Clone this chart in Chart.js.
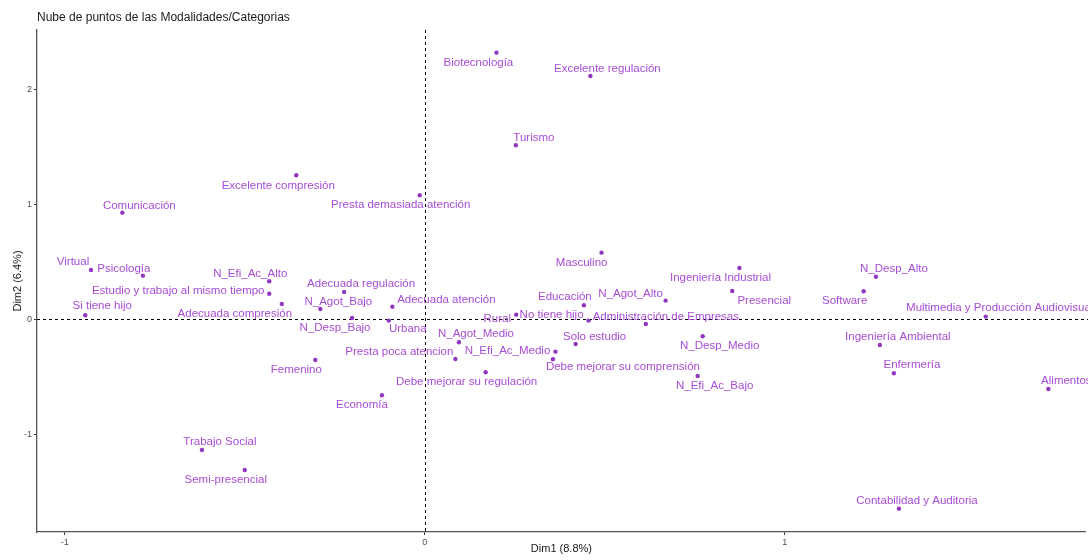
<!DOCTYPE html>
<html>
<head>
<meta charset="utf-8">
<script src="https://cdn.jsdelivr.net/npm/chart.js@4/dist/chart.umd.min.js"></script>
<style>
  html, body { margin: 0; padding: 0; background: #ffffff; }
  #wrap { width: 1088px; height: 560px; position: relative; }
</style>
</head>
<body>
<div id="wrap"><canvas id="c"></canvas></div>
<script>
// ---- Data ----
const categories = [
  "Biotecnología", "Excelente regulación", "Turismo", "Presta demasiada atención",
  "Excelente compresión", "Comunicación", "Virtual", "Psicología", "N_Efi_Ac_Alto",
  "Estudio y trabajo al mismo tiempo", "Si tiene hijo", "Adecuada compresión",
  "Adecuada regulación", "N_Agot_Bajo", "Adecuada atención", "N_Desp_Bajo", "Urbana",
  "Femenino", "Economía", "Presta poca atencion", "N_Agot_Medio", "N_Efi_Ac_Medio",
  "Debe mejorar su comprensión", "Debe mejorar su regulación", "Rural", "No tiene hijo",
  "Administración de Empresas", "Educación", "N_Agot_Alto", "Masculino", "Solo estudio",
  "N_Desp_Medio", "N_Efi_Ac_Bajo", "Ingeniería Industrial", "Presencial", "Software",
  "N_Desp_Alto", "Multimedia y Producción Audiovisual", "Ingeniería Ambiental",
  "Enfermería", "Alimentos", "Contabilidad y Auditoria", "Trabajo Social", "Semi-presencial"
];
const dim1 = [
  0.199, 0.460, 0.253, -0.014,
  -0.357, -0.840, -0.927, -0.783, -0.432,
  -0.432, -0.943, -0.397,
  -0.224, -0.290, -0.090, -0.202, -0.100,
  -0.304, -0.119, 0.085, 0.095, 0.363,
  0.356, 0.169, 0.254, 0.455,
  0.614, 0.442, 0.669, 0.491, 0.419,
  0.772, 0.758, 0.874, 0.854, 1.219,
  1.253, 1.558, 1.264,
  1.303, 1.732, 1.317, -0.619, -0.500
];
const dim2 = [
  2.320, 2.117, 1.515, 1.080,
  1.254, 0.929, 0.430, 0.381, 0.332,
  0.224, 0.037, 0.135,
  0.239, 0.091, 0.111, 0.013, -0.010,
  -0.352, -0.659, -0.344, -0.198, -0.280,
  -0.346, -0.459, 0.042, -0.010,
  -0.039, 0.124, 0.164, 0.581, -0.213,
  -0.146, -0.491, 0.448, 0.248, 0.245,
  0.372, 0.025, -0.222,
  -0.468, -0.604, -1.645, -1.135, -1.309
];
const xTickValues = [-1, 0, 1];
const yTickValues = [-1, 0, 1, 2];
const chartTitle = "Nube de puntos de las Modalidades/Categorias";
const xTitle = "Dim1 (8.8%)";
const yTitle = "Dim2 (6.4%)";

// ---- Layout: repelled label offsets (pixels) ----
const labelOffsets = [
  [-18, 10], [17, -7], [18, -7], [-19, 10],
  [-18, 11], [17, -7], [-18, -8], [-19, -7], [-19, -7],
  [-91, -3], [17, -9], [-47, 10],
  [17, -8], [18, -7], [54, -7], [-17, 10], [19, 8],
  [-19, 10], [-20, 10], [-56, -7], [17, -8], [-48, -1],
  [70, 8], [-19, 10], [-19, 4], [-37, -6],
  [20, -7], [-19, -8], [-35, -7], [-20, 10], [19, -7],
  [17, 10], [17, 10], [-19, 10], [32, 10], [-19, 10],
  [18, -8], [14, -9], [18, -8],
  [18, -8], [18, -8], [18, -8], [18, -8], [-19, 10]
];

const points = dim1.map((x, i) => ({ x: x, y: dim2[i] }));

const TEXT_COLOR = '#a84cd4';
const POINT_COLOR = '#9238c0';

const refLines = {
  id: 'refLines',
  beforeDatasetsDraw(chart) {
    const { ctx, chartArea, scales } = chart;
    const x0 = Math.round(scales.x.getPixelForValue(0)) + 0.5;
    const y0 = Math.round(scales.y.getPixelForValue(0)) + 0.5;
    ctx.save();
    ctx.strokeStyle = '#000';
    ctx.lineWidth = 1;
    ctx.setLineDash([3, 3]);
    ctx.beginPath();
    ctx.moveTo(x0, chartArea.top);
    ctx.lineTo(x0, chartArea.bottom);
    ctx.moveTo(chartArea.left, y0);
    ctx.lineTo(chartArea.right + 4, y0);
    ctx.stroke();
    ctx.restore();
  }
};

const pointLabels = {
  id: 'pointLabels',
  afterDatasetsDraw(chart) {
    const { ctx } = chart;
    const meta = chart.getDatasetMeta(0);
    ctx.save();
    ctx.font = '11.5px "Liberation Sans", Arial, sans-serif';
    ctx.fillStyle = TEXT_COLOR;
    ctx.textAlign = 'center';
    ctx.textBaseline = 'middle';
    meta.data.forEach((el, i) => {
      const off = labelOffsets[i] || [0, 0];
      ctx.fillText(categories[i], el.x + off[0], el.y + off[1]);
    });
    ctx.restore();
  }
};

const mainTitle = {
  id: 'mainTitle',
  afterDraw(chart) {
    const { ctx } = chart;
    ctx.save();
    ctx.font = '12px "Liberation Sans", Arial, sans-serif';
    ctx.fillStyle = '#1a1a1a';
    ctx.textAlign = 'left';
    ctx.textBaseline = 'middle';
    ctx.fillText(chartTitle, 37, 18);
    ctx.restore();
  }
};

new Chart(document.getElementById('c'), {
  type: 'scatter',
  data: {
    datasets: [{
      data: points,
      pointRadius: 2.2,
      pointHoverRadius: 2.2,
      pointStyle: 'circle',
      backgroundColor: POINT_COLOR,
      borderColor: POINT_COLOR,
      borderWidth: 0
    }]
  },
  options: {
    responsive: true,
    maintainAspectRatio: false,
    animation: false,
    layout: { padding: { top: 30, right: 0, bottom: 0, left: 0 } },
    plugins: {
      legend: { display: false },
      tooltip: { enabled: false },
      title: { display: false }
    },
    scales: {
      x: {
        type: 'linear',
        min: -1.077,
        max: 1.836,
        afterBuildTicks(scale) { scale.ticks = xTickValues.map(v => ({ value: v })); },
        afterFit(scale) { scale.height = 28; },
        ticks: {
          color: '#4d4d4d',
          font: { size: 9, family: '"Liberation Sans", Arial, sans-serif' },
          padding: 2,
          maxRotation: 0
        },
        grid: { display: true, drawOnChartArea: false, drawTicks: true, tickLength: 3, color: '#333' },
        border: { display: true, color: '#555', width: 1.3 },
        title: {
          display: true,
          text: xTitle,
          color: '#1a1a1a',
          font: { size: 11, family: '"Liberation Sans", Arial, sans-serif' },
          padding: { top: 0, bottom: 4 }
        }
      },
      y: {
        type: 'linear',
        min: -1.848,
        max: 2.517,
        afterBuildTicks(scale) { scale.ticks = yTickValues.map(v => ({ value: v })); },
        afterFit(scale) { scale.width = 37; },
        ticks: {
          color: '#4d4d4d',
          font: { size: 9, family: '"Liberation Sans", Arial, sans-serif' },
          padding: 2
        },
        grid: { display: true, drawOnChartArea: false, drawTicks: true, tickLength: 3, color: '#333' },
        border: { display: true, color: '#555', width: 1.3 },
        title: {
          display: true,
          text: yTitle,
          color: '#1a1a1a',
          font: { size: 11, family: '"Liberation Sans", Arial, sans-serif' },
          padding: { top: 11, bottom: 0 }
        }
      }
    }
  },
  plugins: [refLines, pointLabels, mainTitle]
});
</script>
</body>
</html>
